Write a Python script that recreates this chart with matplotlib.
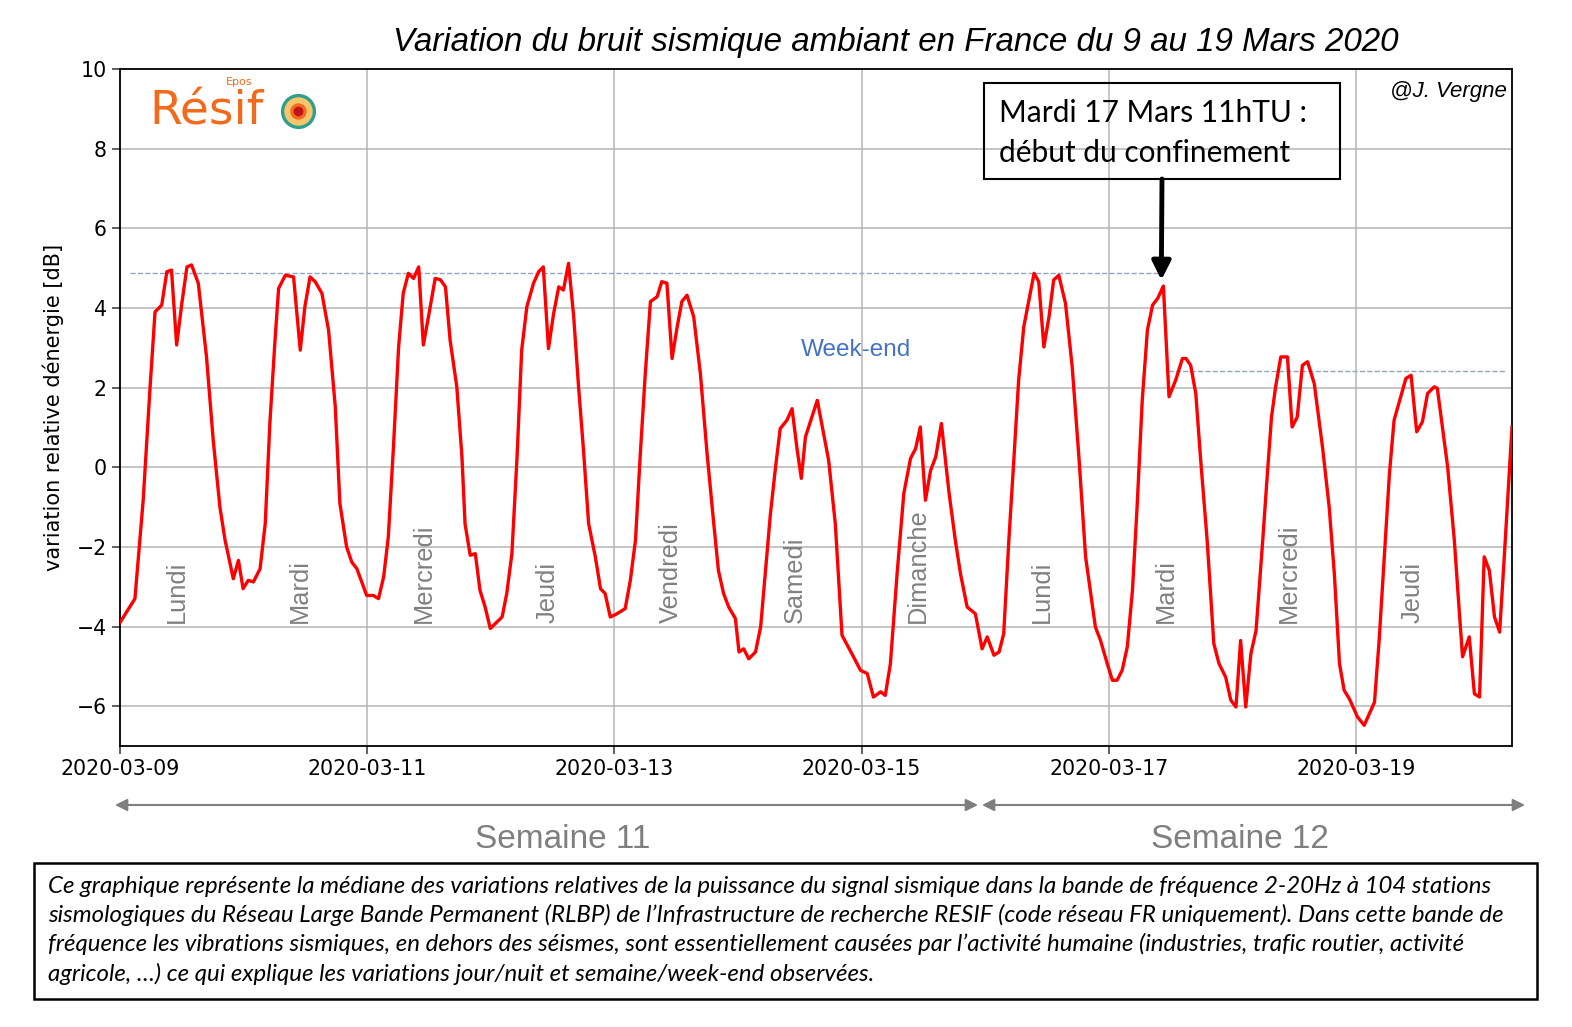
import matplotlib
matplotlib.use("Agg")
import matplotlib.pyplot as plt
import matplotlib.dates as mdates
from matplotlib.patches import Rectangle
from datetime import datetime, timedelta

# bruit sismique median (dB), heures depuis le 9 mars 00h TU
heures = [0, 2.9, 4.5, 5.8, 6.8, 8.1, 9.1, 10.0, 11.0, 12.0, 13.0, 13.9, 15.2, 16.8, 18.1, 19.4, 20.4, 22.0, 23.0, 23.9,
          24.9, 25.9, 27.2, 28.2, 29.1, 30.1, 30.8, 32.1, 33.7, 35.0, 35.9, 36.9, 37.9, 39.2, 40.5, 41.8, 42.7, 44.0, 45.0, 46.0, 47.9,
          49.2, 50.2, 51.2, 52.1, 53.1, 54.1, 55.0, 56.0, 57.0, 58.0, 58.9, 59.9, 61.2, 62.2, 63.2, 64.1, 65.4, 66.4, 67.0, 68.0, 69.0, 69.9, 70.9, 71.9,
          74.2, 75.1, 76.1, 77.1, 78.0, 79.0, 80.3, 81.3, 82.2, 83.2, 84.2, 85.2, 86.1, 87.1, 88.1, 89.0, 90.0, 91.0, 92.3, 93.3, 94.2, 95.2,
          96.5, 98.1, 99.1, 100.1, 101.0, 102.0, 103.0, 104.3, 105.2, 106.2, 107.2, 108.2, 109.1, 110.1, 111.4, 112.7, 114.0, 115.3, 116.2, 117.2, 118.2, 119.5,
          120.2, 121.1, 122.1, 123.4, 124.4, 125.3, 126.3, 127.3, 128.2, 129.5, 130.5, 131.5, 132.3, 133.1, 135.4, 137.6, 138.9, 140.2, 142.1, 143.8,
          145.1, 146.3, 147.7, 148.6, 149.6, 150.9, 152.2, 153.5, 154.5, 155.4, 156.4, 157.4, 158.4, 159.5, 161.0, 162.2, 163.2, 164.5, 166.1, 167.4,
          168.4, 169.7, 170.7, 171.6, 172.6, 173.6, 174.5, 175.5, 176.5, 177.5, 178.4, 179.4, 180.4, 181.3, 182.3, 183.6, 184.9, 186.2, 187.5, 189.4, 190.4, 191.7,
          192.7, 193.6, 194.6, 195.6, 196.6, 197.5, 198.5, 199.5, 200.5, 201.5, 202.6, 203.7, 205.0, 206.3, 207.0, 207.9, 208.9, 209.8, 211.1, 212.4, 213.4, 214.7, 215.7,
          216.7, 217.6, 218.6, 219.6, 220.6, 221.9, 222.8, 223.6, 224.4, 225.4, 226.7, 227.6, 228.6, 229.6, 230.6, 231.9, 233.5, 234.8, 235.8, 236.8, 237.7, 238.7,
          240.3, 241.6, 242.6, 243.6, 244.5, 245.5, 246.5, 247.4, 248.7, 249.7, 250.7, 251.8, 252.9, 253.9, 255.2, 255.8, 257.8, 259.1, 260.0, 260.7, 262.0, 263.0, 264.0,
          264.9, 265.9, 266.9, 267.9, 268.8, 270.3]

db = [-3.9, -3.30, -0.83, 1.93, 3.90, 4.07, 4.91, 4.95, 3.07, 4.11, 5.03, 5.08, 4.62, 2.77, 0.68, -1.00, -1.83, -2.80, -2.34, -3.05,
      -2.84, -2.88, -2.55, -1.42, 1.10, 3.19, 4.49, 4.82, 4.78, 2.94, 4.03, 4.78, 4.66, 4.37, 3.44, 1.52, -0.91, -2.00, -2.38, -2.55, -3.22,
      -3.22, -3.30, -2.75, -1.75, 0.51, 3.02, 4.37, 4.87, 4.74, 5.03, 3.07, 3.78, 4.74, 4.71, 4.53, 3.19, 2.02, 0.26, -1.42, -2.21, -2.17, -3.09, -3.51, -4.05,
      -3.76, -3.17, -2.17, 0.26, 2.94, 4.03, 4.62, 4.91, 5.03, 2.98, 3.86, 4.53, 4.45, 5.12, 3.78, 2.10, 0.43, -1.42, -2.25, -3.05, -3.17, -3.76,
      -3.68, -3.55, -2.84, -1.83, 0.26, 2.35, 4.16, 4.28, 4.66, 4.62, 2.73, 3.53, 4.16, 4.32, 3.78, 2.35, 0.34, -1.42, -2.59, -3.17, -3.51, -3.80,
      -4.64, -4.56, -4.81, -4.64, -4.01, -2.67, -1.17, 0.01, 0.97, 1.18, 1.47, 0.43, -0.28, 0.76, 1.68, 0.18, -1.42, -4.22, -4.68, -5.10,
      -5.18, -5.77, -5.64, -5.73, -4.93, -2.67, -0.66, 0.22, 0.47, 1.01, -0.83, -0.08, 0.26, 1.10, -0.66, -1.83, -2.67, -3.51, -3.68, -4.56,
      -4.26, -4.72, -4.64, -4.18, -1.83, 0.26, 2.19, 3.53, 4.20, 4.87, 4.66, 3.02, 3.78, 4.70, 4.82, 4.11, 2.52, 0.26, -2.25, -4.01, -4.35, -4.93,
      -5.35, -5.35, -5.10, -4.51, -3.09, -1.00, 1.68, 3.44, 4.07, 4.24, 4.55, 1.77, 2.19, 2.73, 2.73, 2.56, 1.85, 0.26, -1.83, -4.43, -4.93, -5.27, -5.85,
      -6.02, -4.35, -6.02, -4.68, -4.10, -1.83, -0.16, 1.26, 2.02, 2.77, 2.77, 1.01, 1.26, 2.56, 2.65, 2.10, 0.51, -1.00, -2.67, -4.93, -5.60, -5.81,
      -6.27, -6.48, -6.19, -5.90, -4.35, -2.25, -0.16, 1.18, 1.77, 2.23, 2.31, 0.89, 1.14, 1.85, 2.02, 1.98, 0.01, -1.83, -3.51, -4.76, -4.26, -5.69, -5.77,
      -2.25, -2.59, -3.76, -4.14, -2.25, 1.01]

jours = ["Lundi", "Mardi", "Mercredi", "Jeudi", "Vendredi", "Samedi", "Dimanche",
         "Lundi", "Mardi", "Mercredi", "Jeudi"]

niveau_semaine = 4.88       # pointillé haut (jours ouvrés)
niveau_confinement = 2.42   # pointillé bas (après confinement)
pic_confinement = 4.70

legende_lignes = [
    "Ce graphique représente la médiane des variations relatives de la puissance du signal sismique dans la bande de fréquence 2-20Hz à 104 stations",
    "sismologiques du Réseau Large Bande Permanent (RLBP) de l’Infrastructure de recherche RESIF (code réseau FR uniquement). Dans cette bande de",
    "fréquence les vibrations sismiques, en dehors des séismes, sont essentiellement causées par l’activité humaine (industries, trafic routier, activité",
    "agricole, …) ce qui explique les variations jour/nuit et semaine/week-end observées.",
]

debut = datetime(2020, 3, 9)
t = [debut + timedelta(hours=h) for h in heures]

W, H = 1572, 1027
fig = plt.figure(figsize=(W / 100, H / 100), dpi=100)
ax = fig.add_axes([120 / W, 1 - 746 / H, (1512 - 120) / W, (746 - 69) / H])

ax.grid(True, color="#b5b5b5", lw=1.1)
ax.set_axisbelow(True)
ax.plot(t, db, color="#ff0000", lw=2.4, zorder=3)

# lignes pointillées de référence
ax.plot([debut + timedelta(hours=2), debut + timedelta(hours=202)], [niveau_semaine] * 2,
        ls="--", color="#8fa6c4", lw=1.0, zorder=2)
ax.plot([debut + timedelta(hours=203.5), debut + timedelta(hours=269)], [niveau_confinement] * 2,
        ls="--", color="#8fa6c4", lw=1.0, zorder=2)

ax.set_xlim(t[0], t[-1])
ax.set_ylim(-7, 10)
ax.set_yticks(range(-6, 11, 2))
ax.xaxis.set_major_locator(mdates.DayLocator(interval=2))
ax.xaxis.set_major_formatter(mdates.DateFormatter("%Y-%m-%d"))
ax.tick_params(labelsize=14.8, length=6, width=1.1, color="#333333")
for s in ax.spines.values():
    s.set_linewidth(1.3)
ax.set_ylabel("variation relative dénergie [dB]", fontsize=15, labelpad=9)

for i, j in enumerate(jours):
    ax.text(debut + timedelta(days=i, hours=11), -3.9, j, rotation=90, ha="center", va="bottom",
            fontsize=18.3, color="#808080", family="Liberation Sans")

ax.text(debut + timedelta(hours=143), 2.95, "Week-end", ha="center", va="center",
        fontsize=17.5, color="#4472c4", family="Liberation Sans")
ax.text(0.9965, 0.967, "@J. Vergne", transform=ax.transAxes, ha="right", va="center",
        fontsize=16, style="italic", family="Liberation Sans")

# logo Résif
ax.text(0.021, 0.937, "Résif", transform=ax.transAxes, ha="left", va="center",
        fontsize=34, color="#f26b1d", family="DejaVu Sans")
ax.text(0.076, 0.981, "Epos", transform=ax.transAxes, ha="left", va="center",
        fontsize=8, color="#f26b1d")
for taille, couleur in [(640, "#2e9e8f"), (420, "#f7c56b"), (140, "#f26b1d"), (50, "#c0141c")]:
    ax.scatter([0.1279], [0.938], s=taille, color=couleur, transform=ax.transAxes,
               zorder=5, clip_on=False, linewidths=0)

# encadré du confinement
fig.add_artist(Rectangle((984 / W, 1 - 179 / H), (1340 - 984) / W, (179 - 83) / H,
                         transform=fig.transFigure, fill=False, ec="black", lw=1.5))
fig.text(999 / W, 1 - 122 / H, "Mardi 17 Mars 11hTU :", fontsize=21.5, family="Lato", va="baseline")
fig.text(999 / W, 1 - 162 / H, "début du confinement", fontsize=21.5, family="Lato", va="baseline")
ax.annotate("", xy=(debut + timedelta(hours=202.2), pic_confinement), xycoords="data",
            xytext=(1162 / W, 1 - 179 / H), textcoords="figure fraction",
            arrowprops=dict(arrowstyle="-|>", lw=3.5, color="black", mutation_scale=28,
                            shrinkA=0, shrinkB=0))

fig.text(896 / W, 1 - 42 / H, "Variation du bruit sismique ambiant en France du 9 au 19 Mars 2020",
         ha="center", va="center", fontsize=23.9, style="italic", family="Liberation Sans")

# semaines
for x0, x1 in [(115, 978), (982, 1525)]:
    ax.annotate("", xy=(x0 / W, 1 - 805 / H), xytext=(x1 / W, 1 - 805 / H),
                xycoords="figure fraction", textcoords="figure fraction",
                arrowprops=dict(arrowstyle="<|-|>", color="#7f7f7f", lw=1.5, mutation_scale=18,
                                shrinkA=0, shrinkB=0))
fig.text(563 / W, 1 - 839 / H, "Semaine 11", ha="center", va="center", fontsize=24,
         color="#7f7f7f", family="Liberation Sans")
fig.text(1240 / W, 1 - 839 / H, "Semaine 12", ha="center", va="center", fontsize=24,
         color="#7f7f7f", family="Liberation Sans")

# légende en bas
fig.add_artist(Rectangle((34 / W, 1 - 999 / H), (1537 - 34) / W, (999 - 863) / H,
                         transform=fig.transFigure, fill=False, ec="black", lw=1.8))
for k, ligne in enumerate(legende_lignes):
    fig.text(48 / W, 1 - (893 + 29.2 * k) / H, ligne, fontsize=17.3, style="italic",
             family="Lato", va="baseline")

fig.savefig("out.png", dpi=100)
